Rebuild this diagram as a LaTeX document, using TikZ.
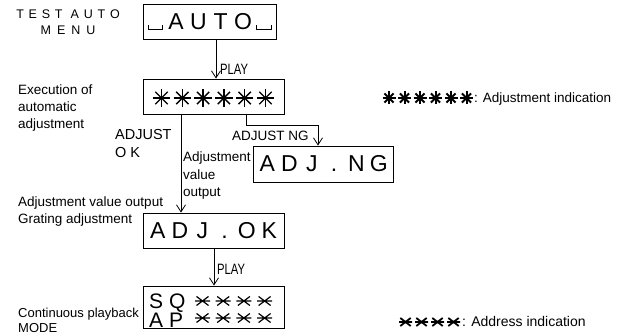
\documentclass[tikz,border=0pt]{standalone}
\usepackage{fontspec}
\setmainfont{Liberation Sans}
\newfontfamily\narrowsans[FakeStretch=0.75]{Liberation Sans}
\usetikzlibrary{arrows.meta}

% fixed-pitch character cell of the display panels
\newcommand\dispcell[1]{\makebox[22.3pt]{#1}}
% open-box glyph for a blank display position
\newcommand\blankcell{\makebox[19pt]{\rule{0.9pt}{4.5pt}\rule{14pt}{0.9pt}\rule{0.9pt}{4.5pt}}}
% letter spacing of the menu caption
\newcommand\lsp{\hspace{4.8pt}}
\newcommand\lspw{\hspace{6pt}}

\begin{document}
\begin{tikzpicture}[x=1pt, y=-1pt,
  screen/.style={draw, line width=0.9pt, inner sep=0pt, font=\fontsize{23}{23}\selectfont},
  caption/.style={inner sep=0pt, font=\fontsize{13.5}{18}\selectfont},
  keyword/.style={inner sep=0pt, anchor=base west, font=\narrowsans\fontsize{15}{16}\selectfont},
  flow/.style={line width=0.8pt, -{Straight Barb[length=7pt, width=9pt, line width=0.8pt]}},
  pics/asteight/.style={code={\foreach \a in {0,45,90,135}{\draw (\a:-#1) -- (\a:#1);}}},
  pics/xbar/.style n args={2}{code={\draw (-#1,0) -- (#1,0) (-0.8*#1,-#2) -- (0.8*#1,#2) (-0.8*#1,#2) -- (0.8*#1,-#2);}}
]
\useasboundingbox (0,0) rectangle (627,336);

% display panels
\node[screen, minimum width=133pt, minimum height=35pt] (auto) at (209.5,22)
  {\blankcell\dispcell{A}\dispcell{U}\dispcell{T}\dispcell{O}\blankcell};
\node[screen, minimum width=141pt, minimum height=35pt] (exec) at (213.5,96.5) {};
\node[screen, minimum width=140pt, minimum height=36pt] (ng) at (323,164)
  {\dispcell{A}\dispcell{D}\dispcell{J}\dispcell{.}\dispcell{N}\dispcell{G}};
\node[screen, minimum width=141pt, minimum height=35pt] (ok) at (213.5,230.5)
  {\dispcell{A}\dispcell{D}\dispcell{J}\dispcell{.}\dispcell{O}\dispcell{K}};
\node[screen, minimum width=141pt, minimum height=42pt] (play) at (213.5,307) {};

% adjustment indication in the execution panel
\foreach \i in {0,...,5}
  \pic[line width=1.4pt] at (161.5+20.8*\i,98) {asteight=8.7};

% address lines of the playback panel
\node[inner sep=0pt, anchor=north west, align=left, font=\fontsize{21}{18}\selectfont] (sqap) at (149,293.5)
  {S Q\\A P};
\foreach \r in {301,318}
  \foreach \i in {0,...,3}
    \pic[line width=1.2pt] at (202.5+20.7*\i,\r) {xbar={7.5}{4.5}};

% transitions
\draw[flow] ([xshift=6.5pt]auto.south) -- ([xshift=2.5pt]exec.north);
\draw[flow] ([xshift=-32.5pt]exec.south) -- ([xshift=-32.5pt]ok.north);
\draw[flow] ([xshift=32.5pt]exec.south) -- ++(0,11) -| ([xshift=-5pt]ng.north);
\draw[flow] ([xshift=0.5pt]ok.south) -- ([xshift=0.5pt]play.north);

% transition labels
\node[keyword] (play1) at (220,75) {PLAY};
\node[keyword] (play2) at (217,275) {PLAY};
\node[caption, anchor=base west] (adjng) at (232,141) {ADJUST NG};
\node[caption, anchor=north west, align=left, font=\fontsize{14.5}{18}\selectfont] (adjok) at (115,129.6) {ADJUST\\O K};
\node[caption, anchor=north west, align=left, font=\fontsize{13.5}{17.5}\selectfont] (valout) at (183,152) {Adjustment\\value\\output};

% state descriptions
\node[caption, anchor=north, align=center, font=\fontsize{12.5}{16}\selectfont] (menu) at (68,10)
  {T\lsp E\lsp S\lsp T\hspace{8pt}A\lsp U\lsp T\lsp O\\M\lspw E\lspw N\lspw U};
\node[caption, anchor=north west, align=left, font=\fontsize{13.5}{17}\selectfont] (exectxt) at (18,85) {Execution of\\automatic\\adjustment};
\node[caption, anchor=north west, align=left, font=\fontsize{13.5}{17}\selectfont] (oktxt) at (18,197)
  {Adjustment value output\\Grating adjustment};
\node[caption, anchor=north west, align=left, font=\fontsize{13}{14.5}\selectfont] (playtxt) at (18,308)
  {Continuous playback\\MODE};

% legend
\foreach \i in {0,...,5}
  \pic[line width=2pt] at (389+15.5*\i,98) {asteight=6.5};
\node[caption, anchor=base west, font=\fontsize{13.5}{16}\selectfont] (key1) at (474,103) {: Adjustment indication};
\foreach \i in {0,...,3}
  \pic[line width=1.8pt] at (405.5+16*\i,322) {xbar={6.5}{4}};
\node[caption, anchor=base west, font=\fontsize{14}{16}\selectfont] (key2) at (462,327) { : Address indication};
\end{tikzpicture}
\end{document}
